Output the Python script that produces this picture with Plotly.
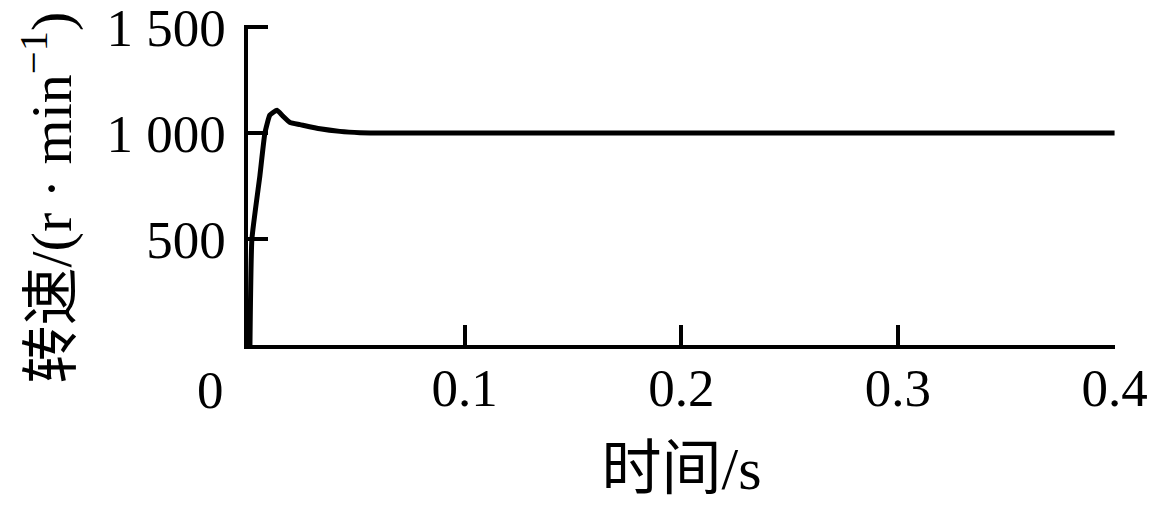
import plotly.graph_objects as go

# time (s) and speed (r/min)
time_s = [0.0009, 0.0018, 0.0055, 0.0078, 0.0101, 0.0134, 0.0161, 0.0194,
          0.024, 0.0332, 0.0424, 0.0517, 0.061, 0.1, 0.2, 0.3, 0.4]
speed_rpm = [0, 500, 800, 1000, 1085, 1108, 1080, 1050,
             1040, 1020, 1008, 1002, 1000, 1000, 1000, 1000, 1000]

x_ticks = [0.1, 0.2, 0.3, 0.4]
x_ticktext = ["0.1", "0.2", "0.3", "0.4"]
y_ticks = [500, 1000, 1500]
y_ticktext = ["500", "1 000", "1 500"]

font_family = "Liberation Serif, Times New Roman, Noto Sans CJK SC"

fig = go.Figure()
fig.add_trace(
    go.Scatter(
        x=time_s,
        y=speed_rpm,
        mode="lines",
        line=dict(color="black", width=5, shape="spline", smoothing=0.4),
        showlegend=False,
    )
)

# shared origin label
fig.add_annotation(
    x=0, y=0, xref="x", yref="y",
    text="0", showarrow=False,
    xanchor="center", yanchor="top",
    xshift=-38, yshift=-14,
    font=dict(family=font_family, size=53, color="black"),
)

# y title as an annotation so it can sit a bit lower like the original
fig.add_annotation(
    x=-0.231, y=0.46, xref="paper", yref="paper",
    text="转速/(r · min<sup>−1</sup>)", showarrow=False,
    textangle=-90, xanchor="center", yanchor="middle",
    font=dict(family=font_family, size=58, color="black"),
)

# page body adds 8px, so the figure is 8px smaller than the window
fig.update_layout(
    width=1154,
    height=500,
    margin=dict(l=240, r=47, t=17, b=163),
    paper_bgcolor="white",
    plot_bgcolor="white",
    font=dict(family=font_family, size=53, color="black"),
)

fig.update_xaxes(
    range=[0, 0.4002],
    tickvals=x_ticks,
    ticktext=x_ticktext,
    ticks="inside",
    ticklen=20,
    tickwidth=3.5,
    tickcolor="black",
    ticklabelstandoff=-6,
    ticklabeloverflow="allow",
    showline=True,
    linewidth=3.5,
    linecolor="black",
    showgrid=False,
    zeroline=False,
    title=dict(text="时间/s", font=dict(size=60), standoff=32),
    automargin=False,
)
fig.update_yaxes(
    range=[0, 1510],
    tickvals=y_ticks,
    ticktext=y_ticktext,
    ticks="inside",
    ticklen=20,
    tickwidth=3.5,
    tickcolor="black",
    ticklabelstandoff=8,
    ticklabeloverflow="allow",
    showline=True,
    linewidth=3.5,
    linecolor="black",
    showgrid=False,
    zeroline=False,
    automargin=False,
)

fig.write_html("out.html")
